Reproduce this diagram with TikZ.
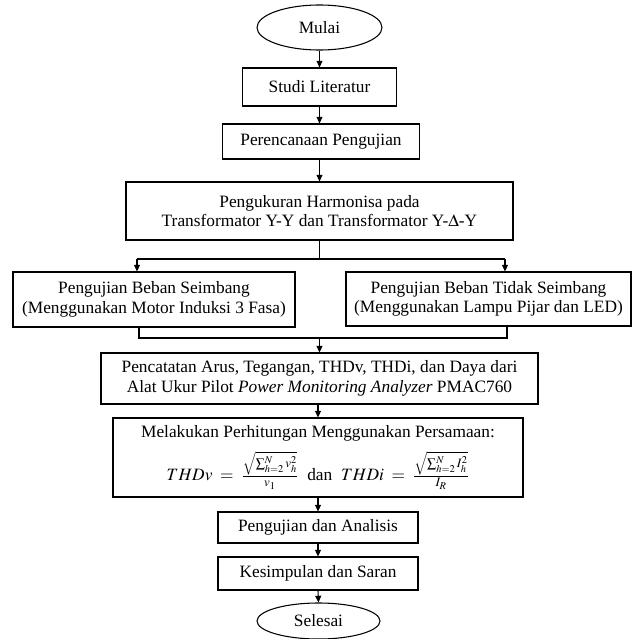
\documentclass[tikz,border=0pt]{standalone}
\usepackage{mathptmx}
\usepackage{fontspec}
\setmainfont{Liberation Serif}
\usetikzlibrary{arrows.meta,shapes.geometric}
\begin{document}
\begin{tikzpicture}[x=0.75pt,y=-0.75pt,
  box/.style={draw,line width=0.8pt,rectangle,inner sep=0pt,align=center,font=\fontsize{13}{14.5}\selectfont},
  term/.style={draw,line width=0.8pt,ellipse,inner sep=0pt,font=\fontsize{13}{14.5}\selectfont},
  conn/.style={line width=0.8pt},
  arr/.style={line width=0.8pt,-{Triangle[length=5pt,width=4.5pt]}}]
\useasboundingbox (0,0) rectangle (633,639);
\node[term,minimum width=93.75pt,minimum height=33.75pt] (mulai) at (319.5,27.5) {Mulai};
\node[box,minimum width=115.5pt,minimum height=28.5pt] (studi) at (319.5,87) {Studi Literatur};
\node[box,minimum width=147.75pt,minimum height=26.25pt] (renc) at (321,141.5) {Perencanaan Pengujian};
\node[box,minimum width=290.25pt,minimum height=43.5pt] (ukur) at (319.5,211) {Pengukuran Harmonisa pada\\Transformator Y-Y dan Transformator Y-$\Delta$-Y};
\node[box,minimum width=211.5pt,minimum height=41.25pt] (kiri) at (154,299.5) {Pengujian Beban Seimbang\\(Menggunakan Motor Induksi 3 Fasa)};
\node[box,minimum width=213.75pt,minimum height=40.5pt] (kanan) at (488.5,299) {Pengujian Beban Tidak Seimbang\\(Menggunakan Lampu Pijar dan LED)};
\node[box,minimum width=327.75pt,minimum height=38.25pt] (catat) at (319.5,378.5) {Pencatatan Arus, Tegangan, THDv, THDi, dan Daya dari\\Alat Ukur Pilot \textit{Power Monitoring Analyzer} PMAC760};
\node[box,minimum width=307.5pt,minimum height=59.25pt] (hitung) at (318,457.5) {Melakukan Perhitungan Menggunakan Persamaan:\\[7pt]$THDv \;=\; \frac{\sqrt{\sum_{h=2}^{N} v_h^2}}{v_1}$\ \ dan\ \ $THDi \;=\; \frac{\sqrt{\sum_{h=2}^{N} I_h^2}}{I_R}$};
\node[box,minimum width=150pt,minimum height=23.25pt] (uji) at (318,527.5) {Pengujian dan Analisis};
\node[box,minimum width=150pt,minimum height=24.75pt] (simpul) at (318,573.5) {Kesimpulan dan Saran};
\node[term,minimum width=92.25pt,minimum height=27pt] (selesai) at (318.5,621) {Selesai};
\coordinate (bl) at (137,259);
\coordinate (br) at (505,259);
\coordinate (jl) at (139,338);
\coordinate (jr) at (507,338);
\draw[arr] (mulai.south) -- (mulai.south |- studi.north);
\draw[arr] (studi.south) -- (studi.south |- renc.north);
\draw[arr] (renc.south -| studi.south) -- (studi.south |- ukur.north);
\draw[conn] (ukur.south) -- (ukur.south |- bl);
\draw[conn] (bl) -- (br);
\draw[arr] (bl) -- (bl |- kiri.north);
\draw[arr] (br) -- (br |- kanan.north);
\draw[conn] (jl |- kiri.south) -- (jl) -- (jr) -- (jr |- kanan.south);
\draw[arr] (catat.north |- jl) -- (catat.north);
\draw[arr] (catat.south -| hitung.north) -- (hitung.north);
\draw[arr] (hitung.south) -- (uji.north);
\draw[arr] (uji.south) -- (simpul.north);
\draw[arr] (simpul.south) -- (selesai.north);
\end{tikzpicture}
\end{document}
